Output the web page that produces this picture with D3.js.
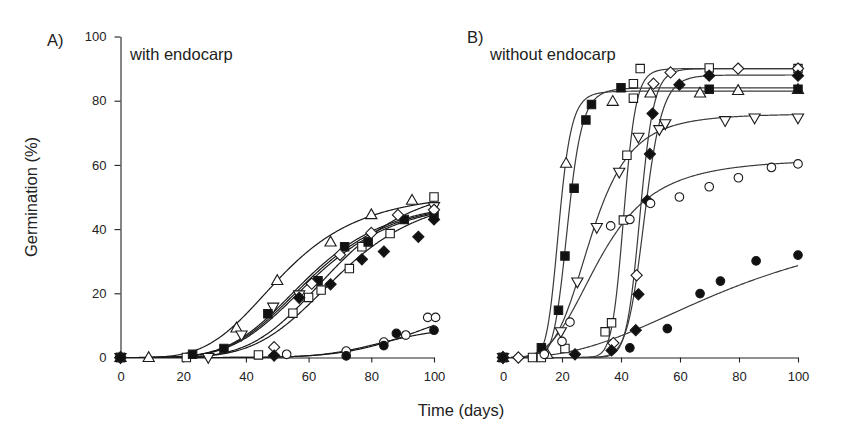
<!DOCTYPE html>
<html lang="en">
<head>
<meta charset="UTF-8"/>
<title>Germination with and without endocarp</title>
<script src="https://d3js.org/d3.v7.min.js"></script>
<style>
body { margin: 0; background: #fff; }
svg { display: block; }
text { font-family: "Liberation Sans", Arial, sans-serif; fill: #222; }
.tick text { font-size: 13px; }
.axis path, .axis line { stroke: #222; stroke-width: 1.1; }
.label { font-size: 16.5px; }
.fit { fill: none; stroke-width: 1.2; }
</style>
</head>
<body>
<svg width="856" height="439"></svg>
<script>
// ---- data ----
const xTicks = [0, 20, 40, 60, 80, 100];
const yTicks = [0, 20, 40, 60, 80, 100];
const kinds = ['triUp', 'triDown', 'sqOpen', 'sqFill', 'diaOpen', 'diaFill', 'cirOpen', 'cirFill'];

// A) with endocarp  [day, germination %]
const aTriUp   = [[0,0],[9,0],[37,9.2],[50,24],[67,36],[80,44.5],[93,49]];
const aTriDown = [[0,0],[28,0],[38.6,7],[48.7,15.7],[57,19.5],[100,47]];
const aSqOpen  = [[0,0],[21,0],[44,0.8],[55,13.8],[60,18.7],[64,21],[73,27.7],[77,34.5],[86,38.6],[100,50]];
const aSqFill  = [[0,0],[23,1],[33,2.8],[47,13.6],[63,23.9],[71.5,34.5],[79,36],[90.5,43],[100,44.5]];
const aDiaOpen = [[0,0],[49,3.2],[61,23],[70,32],[80,38.8],[88.5,44.4],[100,46]];
const aDiaFill = [[0,0],[49,0.6],[57,18.6],[67,22.8],[77,30.6],[84,33],[95,37.6],[100,43]];
const aCirOpen = [[0,0],[53,1],[72,2],[84,4.8],[91,7],[98,12.5],[100.5,12.5]];
const aCirFill = [[0,0],[72,0.5],[84,3.7],[88,7.5],[100,8.5]];
// fitted curves: [max, t50, slope]
const aFits = [[52,52,4],[50,60,4.5],[55,68,5],[50,62,4.5],[50,61,4.5],[52,70,5],[20,100,7],[10,85,8]];

// B) without endocarp
const bTriUp   = [[0,0],[15,1],[21.4,60.5],[37.2,79.8],[50,82.4],[66.8,82.4],[79.7,83.2],[100,83.5]];
const bTriDown = [[0,0],[19.6,8],[25.2,23.5],[31.8,40.5],[39.4,57.7],[45.9,68.6],[53,71],[55,72.8],[75.3,73.8],[85.3,74.6],[100,74.6]];
const bSqOpen  = [[0,0],[10,0],[13,0],[21,2.8],[34.6,8],[36.8,10.8],[40.8,42.8],[42,63],[44.2,80.8],[44.2,85.3],[46.5,90],[69.9,90.2],[100,90]];
const bSqFill  = [[0,0],[13,3],[18.8,14.7],[21,31.6],[24.1,52.7],[28.1,74],[30,78.8],[40,84],[69.9,83.6],[100,83.6]];
const bDiaOpen = [[0,0],[5.2,0],[37.4,4.5],[45.3,25.6],[51,85.3],[56.8,88.8],[79.7,90],[100,90]];
const bDiaFill = [[0,0],[24.4,1],[36.8,2.2],[45,8.5],[45.9,19.7],[48.9,48.9],[49.8,63.4],[50.7,76],[59.8,85],[69.9,87.8],[100,87.8]];
const bCirOpen = [[0,0],[14,1],[20,5],[22.7,11],[36.5,41],[43,43],[50,48],[59.8,50],[69.9,53.2],[79.8,56],[91,59.2],[100,60.3]];
const bCirFill = [[0,0],[43,3],[55.7,9],[66.8,19.9],[73.7,23.8],[85.8,30.1],[100,31.9]];
const bFits = [[83,19,9],[76,30,4.5],[90,41,20],[84,22,9],[90,46.5,20],[88,48,16],[62,33,3.5],[45,80,2.5]];

const svg = d3.select('svg');

const y = d3.scaleLinear().domain([0, 100]).range([357.5, 36.5]);

// marker shapes (open = white fill)
function marker(g, kind, cx, cy) {
  let d;
  if (kind.startsWith('triUp')) d = 'M0,-5.8L5.6,4L-5.6,4Z';
  else if (kind.startsWith('triDown')) d = 'M0,5.8L5.6,-4L-5.6,-4Z';
  else if (kind.startsWith('sq')) d = 'M-4.2,-4.2H4.2V4.2H-4.2Z';
  else if (kind.startsWith('dia')) d = 'M0,-5.6L5.6,0L0,5.6L-5.6,0Z';
  else d = d3.symbol(d3.symbolCircle, 58)();
  const filled = kind.endsWith('Fill');
  g.append('path')
    .attr('d', d)
    .attr('transform', `translate(${cx},${cy})`)
    .attr('fill', filled ? '#111' : '#fff')
    .attr('stroke', '#1a1a1a')
    .attr('stroke-width', 1.1);
}

function panel(x, series, fits, withYAxis, lineColor) {
  const g = svg.append('g');

  g.append('g')
    .attr('class', 'axis')
    .attr('transform', `translate(0, ${y(0)})`)
    .call(d3.axisBottom(x).tickValues(xTicks).tickSize(5).tickPadding(9).tickSizeOuter(0));

  if (withYAxis) {
    g.append('g')
      .attr('class', 'axis')
      .attr('transform', `translate(${x(0)}, 0)`)
      .call(d3.axisLeft(y).tickValues(yTicks).tickSize(6).tickPadding(8).tickSizeOuter(0));
  }

  // fitted curves
  const ts = d3.range(0, 100.25, 0.25);
  const line = d3.line().x(d => x(d[0])).y(d => y(d[1]));
  fits.forEach(([a, t50, h]) => {
    const pts = ts.map(t => [t, a * Math.pow(t, h) / (Math.pow(t50, h) + Math.pow(t, h))]);
    g.append('path').attr('class', 'fit').attr('stroke', lineColor).attr('d', line(pts));
  });

  // data points
  series.forEach((pts, i) => {
    pts.forEach(p => marker(g, kinds[i], x(p[0]), y(p[1])));
  });
  return g;
}

const xA = d3.scaleLinear().domain([0, 100]).range([120.5, 434]);
const xB = d3.scaleLinear().domain([0, 100]).range([503, 798]);

panel(xA, [aTriUp, aTriDown, aSqOpen, aSqFill, aDiaOpen, aDiaFill, aCirOpen, aCirFill], aFits, true, '#1a1a1a');
panel(xB, [bTriUp, bTriDown, bSqOpen, bSqFill, bDiaOpen, bDiaFill, bCirOpen, bCirFill], bFits, false, '#3a3a3a');

// labels
svg.append('text').attr('class', 'label').attr('x', 47).attr('y', 46).text('A)');
svg.append('text').attr('class', 'label').attr('x', 467).attr('y', 43).text('B)');
svg.append('text').attr('class', 'label').attr('x', 130).attr('y', 60).text('with endocarp');
svg.append('text').attr('class', 'label').attr('x', 490).attr('y', 60).text('without endocarp');

svg.append('text')
  .attr('class', 'label')
  .attr('transform', `translate(37, ${y(50)}) rotate(-90)`)
  .attr('text-anchor', 'middle')
  .text('Germination (%)');

svg.append('text')
  .attr('class', 'label')
  .attr('x', 461)
  .attr('y', 416)
  .attr('text-anchor', 'middle')
  .text('Time (days)');
</script>
</body>
</html>
